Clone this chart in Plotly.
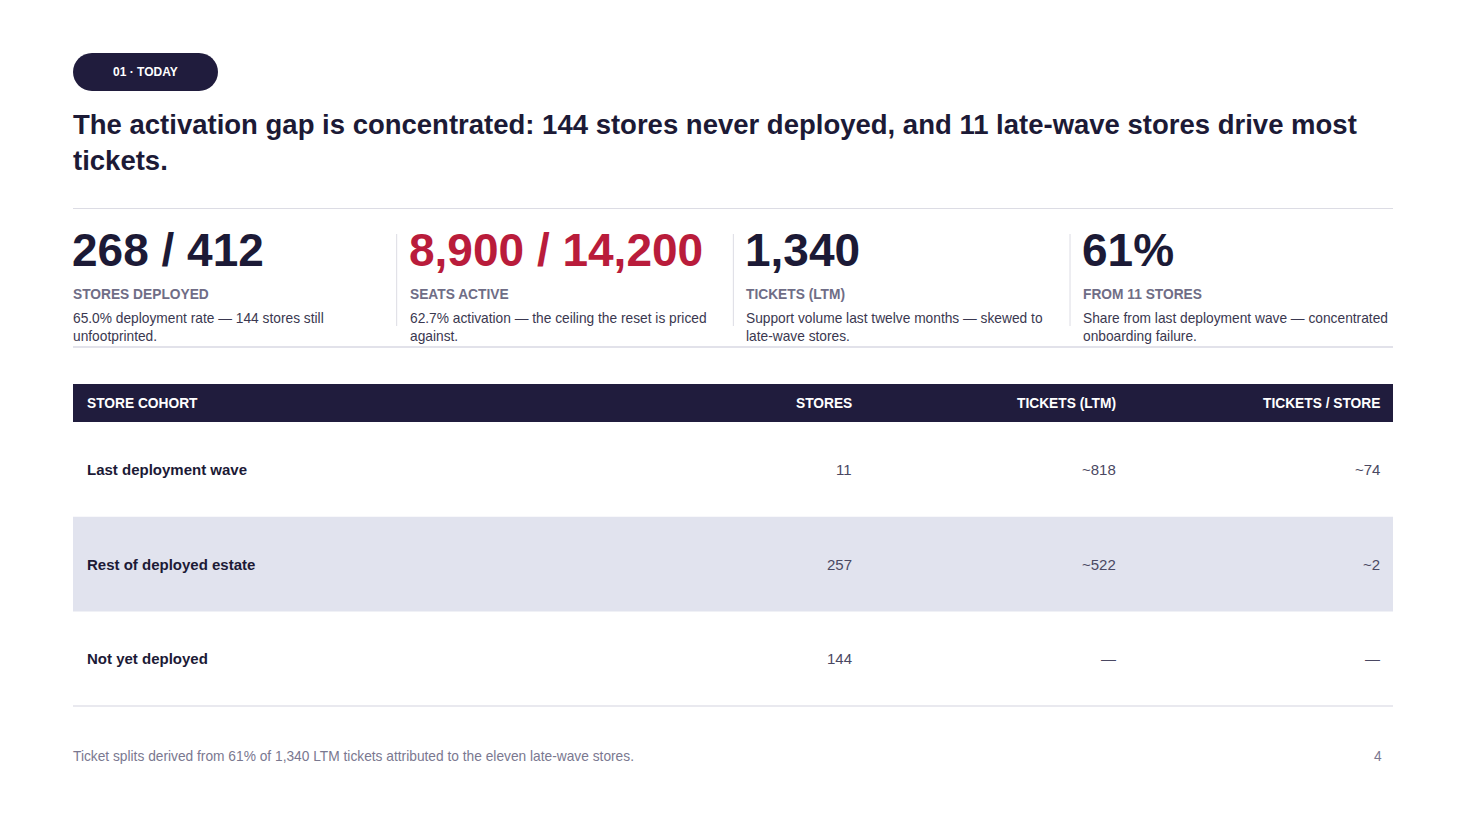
import plotly.graph_objects as go

# ---------------- data ----------------
section_tag = "01 · TODAY"
title_lines = [
    "The activation gap is concentrated: 144 stores never deployed, and 11 late-wave stores drive most",
    "tickets.",
]
kpi_values = ["268 / 412", "8,900 / 14,200", "1,340", "61%"]
kpi_labels = ["STORES DEPLOYED", "SEATS ACTIVE", "TICKETS (LTM)", "FROM 11 STORES"]
kpi_notes = [
    ["65.0% deployment rate — 144 stores still", "unfootprinted."],
    ["62.7% activation — the ceiling the reset is priced", "against."],
    ["Support volume last twelve months — skewed to", "late-wave stores."],
    ["Share from last deployment wave — concentrated", "onboarding failure."],
]
kpi_highlight = [False, True, False, False]

table_headers = ["STORE COHORT", "STORES", "TICKETS (LTM)", "TICKETS / STORE"]
cohorts = ["Last deployment wave", "Rest of deployed estate", "Not yet deployed"]
stores = ["11", "257", "144"]
tickets_ltm = ["~818", "~522", "—"]
tickets_per_store = ["~74", "~2", "—"]

footnote = "Ticket splits derived from 61% of 1,340 LTM tickets attributed to the eleven late-wave stores."
page_number = "4"

# ---------------- style ----------------
W, H = 1467, 825
OFF = 8   # page body margin
PAD = 2   # annotation inner padding
FONT = "Liberation Sans, Arial, sans-serif"
NAVY = "#201c3d"
INK = "#1c1a36"
BODY = "#3a3850"
MUTED = "#6f6d86"
RED = "#b91c3b"
RULE = "#dcdce4"
BAND = "#e1e3ee"
SMALL = 13.75
LEFT, RIGHT = 73, 1393

fig = go.Figure()
shapes = []
ann = []


def text(x, y, s, size, color, bold=False, xanchor="left"):
    if bold:
        s = "<b>" + s + "</b>"
    if xanchor == "left":
        x -= PAD
    elif xanchor == "right":
        x += PAD
    ann.append(dict(x=x, y=y, xref="x", yref="y", text=s, showarrow=False,
                    xanchor=xanchor, yanchor="middle",
                    font=dict(family=FONT, size=size, color=color)))


# pill tag
r = 19
x0, x1, y0, y1 = 73, 218, 53, 91
k = 0.5523 * r
pill = (f"M {x0+r},{y0} L {x1-r},{y0} "
        f"C {x1-r+k},{y0} {x1},{y0+r-k} {x1},{y0+r} "
        f"C {x1},{y0+r+k} {x1-r+k},{y1} {x1-r},{y1} "
        f"L {x0+r},{y1} "
        f"C {x0+r-k},{y1} {x0},{y0+r+k} {x0},{y0+r} "
        f"C {x0},{y0+r-k} {x0+r-k},{y0} {x0+r},{y0} Z")
shapes.append(dict(type="path", path=pill, xref="x", yref="y",
                   fillcolor=NAVY, line=dict(width=0), layer="below"))
text((x0 + x1) / 2, 72, section_tag, 12, "white", bold=True, xanchor="center")

# title
for i, line in enumerate(title_lines):
    text(LEFT, 124 + 36 * i, line, 27.5, INK, bold=True)

# top rule
shapes.append(dict(type="line", x0=LEFT, x1=RIGHT, y0=208.5, y1=208.5, xref="x", yref="y",
                   line=dict(color=RULE, width=1)))

# KPI strip
col_w = (RIGHT - LEFT + 26.7) / 4
for i, val in enumerate(kpi_values):
    cx = LEFT + i * col_w
    if i > 0:
        shapes.append(dict(type="line", x0=cx - 13, x1=cx - 13, y0=234, y1=326, xref="x", yref="y",
                           line=dict(color=RULE, width=1)))
    text(cx - 1, 250, val, 46, RED if kpi_highlight[i] else INK, bold=True)
    text(cx, 294, kpi_labels[i], SMALL, MUTED, bold=True)
    for j, nl in enumerate(kpi_notes[i]):
        text(cx, 318 + 18 * j, nl, SMALL, BODY)

shapes.append(dict(type="line", x0=LEFT, x1=RIGHT, y0=347, y1=347, xref="x", yref="y",
                   line=dict(color="#e2e2ea", width=2)))

# table
head_top, head_bot = 384, 422
row_h = 94.7
col_right = [None, 852, 1116, 1380]
shapes.append(dict(type="rect", x0=LEFT, x1=RIGHT, y0=head_top, y1=head_bot, xref="x", yref="y",
                   fillcolor=NAVY, line=dict(width=0), layer="below"))
for c, h in enumerate(table_headers):
    if c == 0:
        text(LEFT + 14, (head_top + head_bot) / 2, h, SMALL, "white", bold=True)
    else:
        text(col_right[c], (head_top + head_bot) / 2, h, SMALL, "white", bold=True, xanchor="right")

for r_i, name in enumerate(cohorts):
    top = head_bot + r_i * row_h
    mid = top + row_h / 2
    if r_i % 2 == 1:
        shapes.append(dict(type="rect", x0=LEFT, x1=RIGHT, y0=top, y1=top + row_h, xref="x", yref="y",
                           fillcolor=BAND, line=dict(width=0), layer="below"))
    text(LEFT + 14, mid, name, 15, INK, bold=True)
    for c, vals in zip([1, 2, 3], [stores, tickets_ltm, tickets_per_store]):
        text(col_right[c], mid, vals[r_i], 15, "#4a4862", xanchor="right")

table_bottom = head_bot + len(cohorts) * row_h
shapes.append(dict(type="line", x0=LEFT, x1=RIGHT, y0=table_bottom, y1=table_bottom, xref="x", yref="y",
                   line=dict(color="#e2e2ea", width=1.5)))

# footer
text(LEFT, 756, footnote, SMALL, "#7a7890")
text(1382, 756, page_number, SMALL, "#7a7890", xanchor="right")

fig.update_layout(
    width=W, height=H,
    margin=dict(l=0, r=0, t=0, b=0),
    paper_bgcolor="white", plot_bgcolor="white",
    xaxis=dict(range=[OFF, W + OFF], visible=False, fixedrange=True),
    yaxis=dict(range=[H + OFF, OFF], visible=False, fixedrange=True),
    shapes=shapes, annotations=ann, showlegend=False,
)
fig.write_html("out.html")
